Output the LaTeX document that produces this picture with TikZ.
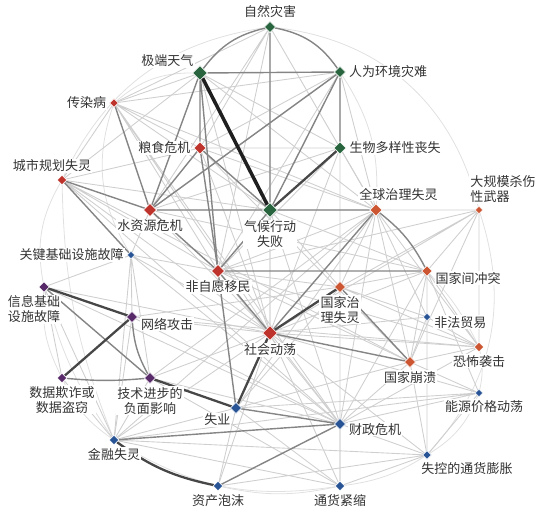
\documentclass[tikz,border=0pt]{standalone}
\usepackage{fontspec}
\setmainfont{Noto Sans CJK SC}
\usetikzlibrary{shapes.geometric,backgrounds}
\definecolor{envc}{RGB}{40,100,62}
\definecolor{socc}{RGB}{190,52,44}
\definecolor{geoc}{RGB}{204,86,50}
\definecolor{ecoc}{RGB}{40,84,150}
\definecolor{tecc}{RGB}{88,42,105}
\begin{document}
\begin{tikzpicture}[x=0.02cm,y=-0.02cm, every label/.style={font=\fontsize{7.4}{8.6}\selectfont,text=black!80,fill=white,inner sep=0.6pt,align=center,label distance=1pt}, risk/.style={diamond,draw=white,line width=0.3pt,inner sep=0pt,minimum size=#1}, env/.style={risk=#1,fill=envc}, soc/.style={risk=#1,fill=socc}, geo/.style={risk=#1,fill=geoc}, eco/.style={risk=#1,fill=ecoc}, tec/.style={risk=#1,fill=tecc}, faint/.style={black!12,line width=0.45pt}, weak/.style={black!19,line width=0.5pt}, mid/.style={black!48,line width=0.8pt}, heavy/.style={black!72,line width=1.3pt}]
\useasboundingbox (0,0) rectangle (554,510);
\node[env=6.5pt,label=above:自然灾害] (zrzh) at (270,27) {};
\node[env=8.5pt,label=above left:极端天气] (jdtq) at (200,73) {};
\node[env=6.5pt,label=right:人为环境灾难] (rwhj) at (340,72) {};
\node[soc=5pt,label=left:传染病] (crb) at (114,103) {};
\node[soc=7pt,label=left:粮食危机] (lsjj) at (200,148) {};
\node[env=7pt,label=right:生物多样性丧失] (swdy) at (340,148) {};
\node[soc=5.5pt,label={[xshift=-0.2cm]above:城市规划失灵}] (csgh) at (62,180) {};
\node[soc=7.5pt,label=below:水资源危机] (szy) at (150,210) {};
\node[env=8.5pt,label=below:气候行动\\失败] (qhxd) at (270,210) {};
\node[geo=7pt,label={[xshift=0.45cm]above:全球治理失灵}] (qqzl) at (376,210) {};
\node[geo=4.5pt,label={[xshift=0.48cm,align=left]above:大规模杀伤\\性武器}] (dgm) at (479,210) {};
\node[eco=4.5pt,label=left:关键基础设施故障] (gjjc) at (131,255) {};
\node[soc=7.5pt,label=below:非自愿移民] (fzy) at (218,271) {};
\node[geo=6pt,label={[yshift=-4pt]right:国家间冲突}] (gjjct) at (427,271) {};
\node[tec=6pt,label={[xshift=-0.2cm]below:信息基础\\设施故障}] (xxjc) at (44,287) {};
\node[tec=6.5pt,label={[yshift=-4pt]right:网络攻击}] (wlgj) at (132,317) {};
\node[geo=6.5pt,label=below:国家治\\理失灵] (gjzl) at (340,287) {};
\node[eco=4.5pt,label={[yshift=-3pt]right:非法贸易}] (ffmy) at (427,317) {};
\node[soc=8.5pt,label=below:社会动荡] (shdd) at (270,333) {};
\node[geo=5.5pt,label=below:恐怖袭击] (kbxj) at (479,347) {};
\node[geo=6.5pt,label=below:国家崩溃] (gjbk) at (410,362) {};
\node[tec=5.5pt,label=below:数据欺诈或\\数据盗窃] (sjqz) at (62,378) {};
\node[tec=6.5pt,label=below:技术进步的\\负面影响] (jsjb) at (150,378) {};
\node[eco=4.5pt,label={[xshift=0.1cm]below:能源价格动荡}] (nyjg) at (479,393) {};
\node[eco=6.5pt,label=below left:失业] (sy) at (236,408) {};
\node[eco=6.5pt,label={[yshift=-3pt]right:财政危机}] (czwj) at (340,424) {};
\node[eco=5.5pt,label=below:金融失灵] (jrsl) at (114,440) {};
\node[eco=5pt,label={[xshift=0.8cm]below:失控的通货膨胀}] (skpz) at (427,455) {};
\node[eco=5.5pt,label=below:资产泡沫] (zcpm) at (218,486) {};
\node[eco=5.5pt,label=below:通货紧缩] (hjjs) at (340,486) {};
\begin{scope}[on background layer]
% outer arcs
\draw[faint] (zrzh) to[bend right=28] (csgh);
\draw[faint] (csgh) to[bend right=20] (xxjc);
\draw[faint] (xxjc) to[bend right=15] (sjqz);
\draw[faint] (sjqz) to[bend right=15] (jrsl);
\draw[faint] (zcpm) to[bend right=12] (hjjs);
\draw[faint] (hjjs) to[bend right=12] (skpz);
\draw[faint] (skpz) to[bend right=18] (nyjg);
\draw[faint] (nyjg) to[bend right=12] (kbxj);
\draw[faint] (kbxj) to[bend right=8] (gjjct);
\draw[faint] (skpz) to[bend right=30] (dgm);
\draw[faint] (rwhj) to[bend left=18] (qqzl);
\draw[faint] (crb) to[bend right=25] (gjjc);
\draw[faint] (jdtq) to[bend right=20] (crb);
\draw[faint] (xxjc) to[bend right=10] (jrsl);
\draw[faint] (zrzh) to[bend left=35] (dgm);
\draw[faint] (csgh) to[bend right=10] (jrsl);
\draw[faint] (jrsl) to[bend right=20] (hjjs);
% weak links
\draw[weak] (zrzh) -- (lsjj) (zrzh) -- (swdy) (zrzh) -- (szy) (zrzh) -- (fzy) (zrzh) -- (qqzl) (zrzh) -- (crb) (zrzh) -- (shdd);
\draw[weak] (jdtq) -- (crb) (jdtq) -- (swdy) (jdtq) -- (qqzl) (jdtq) -- (csgh) (jdtq) -- (shdd);
\draw[weak] (rwhj) -- (lsjj) (rwhj) -- (szy) (rwhj) -- (fzy) (rwhj) -- (qqzl) (rwhj) -- (crb) (rwhj) -- (gjzl);
\draw[weak] (crb) -- (lsjj) (crb) -- (qhxd) (crb) -- (fzy) (crb) -- (shdd) (crb) -- (qqzl) (crb) -- (csgh) (crb) -- (czwj);
\draw[weak] (lsjj) -- (swdy) (lsjj) -- (shdd) (lsjj) -- (qqzl) (lsjj) -- (csgh) (lsjj) -- (gjbk);
\draw[weak] (swdy) -- (szy) (swdy) -- (qqzl) (swdy) -- (fzy) (swdy) -- (shdd);
\draw[weak] (csgh) -- (fzy) (csgh) -- (shdd) (csgh) -- (qhxd) (csgh) -- (czwj) (csgh) -- (gjbk);
\draw[weak] (szy) -- (shdd) (szy) -- (qqzl) (szy) -- (gjjc) (szy) -- (gjjct);
\draw[weak] (qhxd) -- (shdd) (qhxd) -- (gjjct) (qhxd) -- (gjzl) (qhxd) -- (czwj);
\draw[weak] (qqzl) -- (dgm) (qqzl) -- (fzy) (qqzl) -- (gjzl) (qqzl) -- (gjbk) (qqzl) -- (kbxj) (qqzl) -- (czwj) (qqzl) -- (sy) (qqzl) -- (ffmy) (qqzl) -- (jsjb) (qqzl) -- (jrsl);
\draw[weak] (dgm) -- (gjjct) (dgm) -- (kbxj) (dgm) -- (gjbk) (dgm) -- (fzy) (dgm) -- (shdd) (dgm) -- (gjzl);
\draw[weak] (gjjc) -- (wlgj) (gjjc) -- (xxjc) (gjjc) -- (shdd) (gjjc) -- (fzy) (gjjc) -- (jsjb) (gjjc) -- (czwj) (gjjc) -- (jrsl);
\draw[weak] (fzy) -- (gjzl) (fzy) -- (kbxj) (fzy) -- (gjbk) (fzy) -- (czwj);
\draw[weak] (gjjct) -- (ffmy) (gjjct) -- (kbxj) (gjjct) -- (gjbk) (gjjct) -- (shdd) (gjjct) -- (gjzl) (gjjct) -- (nyjg) (gjjct) -- (czwj) (gjjct) -- (skpz);
\draw[weak] (xxjc) -- (sjqz) (xxjc) -- (shdd) (xxjc) -- (jrsl) (xxjc) -- (czwj);
\draw[weak] (wlgj) -- (shdd) (wlgj) -- (jrsl) (wlgj) -- (gjzl) (wlgj) -- (kbxj) (wlgj) -- (czwj);
\draw[weak] (gjzl) -- (kbxj) (gjzl) -- (ffmy) (gjzl) -- (czwj) (gjzl) -- (sy) (gjzl) -- (hjjs);
\draw[weak] (ffmy) -- (gjbk) (ffmy) -- (shdd) (ffmy) -- (kbxj);
\draw[weak] (shdd) -- (kbxj) (shdd) -- (czwj) (shdd) -- (jsjb) (shdd) -- (zcpm) (shdd) -- (jrsl) (shdd) -- (hjjs) (shdd) -- (skpz) (shdd) -- (nyjg);
\draw[weak] (kbxj) -- (gjbk) (kbxj) -- (czwj) (gjbk) -- (czwj) (gjbk) -- (nyjg) (gjbk) -- (skpz) (gjbk) -- (sy);
\draw[weak] (sjqz) -- (jrsl) (jsjb) -- (jrsl) (jsjb) -- (czwj) (jsjb) -- (hjjs) (nyjg) -- (czwj) (nyjg) -- (skpz) (nyjg) -- (sy) (nyjg) -- (jrsl);
\draw[weak] (sy) -- (jrsl) (sy) -- (zcpm) (sy) -- (hjjs) (czwj) -- (hjjs) (czwj) -- (skpz) (jrsl) -- (hjjs) (jrsl) -- (skpz) (zcpm) -- (skpz) (hjjs) -- (skpz);
% stronger links
\draw[mid] (jdtq) to[bend left=20] (zrzh);
\draw[mid] (zrzh) to[bend left=22] (rwhj);
\draw[mid] (jdtq) -- (rwhj) (jdtq) -- (lsjj) (jdtq) -- (szy) (jdtq) -- (fzy);
\draw[mid] (zrzh) -- (qhxd) (rwhj) -- (swdy) (rwhj) -- (qhxd) (rwhj) -- (szy);
\draw[mid] (lsjj) -- (szy) (lsjj) -- (qhxd) (lsjj) -- (fzy) (szy) -- (qhxd) (szy) -- (fzy);
\draw[mid] (qhxd) -- (qqzl) (qhxd) -- (fzy) (csgh) -- (szy) (crb) -- (szy) (csgh) -- (gjjc);
\draw[mid] (qqzl) to[bend left=12] (gjjct);
\draw[mid] (qqzl) -- (shdd) (fzy) -- (shdd) (fzy) -- (gjjct) (gjzl) -- (gjbk) (shdd) -- (gjbk);
\draw[mid] (wlgj) to[bend right=12] (jsjb);
\draw[mid] (xxjc) -- (jsjb) (sjqz) to[bend right=5] (jsjb);
\draw[mid] (zcpm) -- (czwj) (sy) -- (czwj) (jrsl) -- (czwj) (fzy) -- (sy);
\draw[heavy,black!88,line width=2pt] (jdtq) -- (qhxd);
\draw[heavy] (qhxd) -- (swdy);
\draw[heavy] (shdd) -- (gjzl);
\draw[heavy] (xxjc) -- (wlgj);
\draw[heavy] (wlgj) -- (sjqz);
\draw[heavy] (jsjb) -- (sy);
\draw[heavy] (shdd) -- (sy);
\draw[heavy] (jrsl) to[bend right=12] (zcpm);
\end{scope}
\end{tikzpicture}
\end{document}
